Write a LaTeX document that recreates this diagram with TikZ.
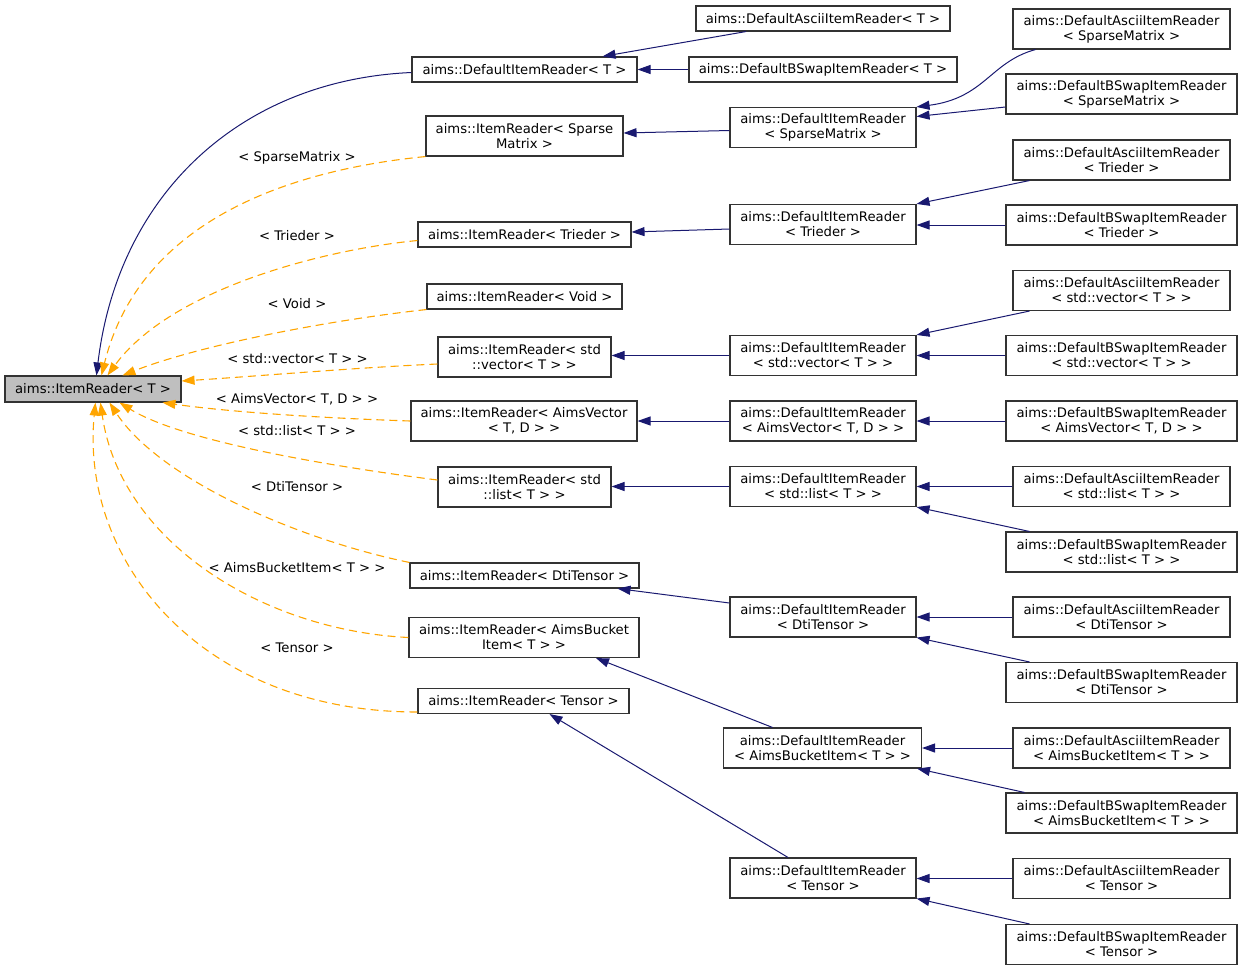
\documentclass[tikz,border=0pt]{standalone}
\usepackage{fontspec}
\newfontfamily\dvs{DejaVu Sans}
\usetikzlibrary{arrows.meta,calc}
\definecolor{boxline}{HTML}{333333}
\definecolor{rootfill}{HTML}{BFBFBF}
\definecolor{navyedge}{HTML}{191970}
\definecolor{orangeedge}{HTML}{FFA500}
\tikzset{
  cls/.style={draw=boxline, line width=1.1pt, fill=white, inner sep=0pt, align=center,
    font=\dvs\fontsize{13.2}{15}\selectfont},
  bx/.style 2 args={cls, minimum width=#1pt, minimum height=#2pt},
  inh/.style={draw=navyedge, line width=1pt, -{Triangle[length=13pt,width=9pt]}},
  dep/.style={draw=orangeedge, line width=1.1pt, dash pattern=on 8pt off 5pt,
    -{Triangle[length=13pt,width=9pt,fill=orangeedge]}},
  lbl/.style={inner sep=0pt, font=\dvs\fontsize{13.2}{15}\selectfont}
}
\begin{document}
\begin{tikzpicture}[x=1pt,y=-1pt]
\useasboundingbox (0,0) rectangle (1243,970);
% root
\node[bx={176}{26}, fill=rootfill] (root) at (93,389) {aims::ItemReader< T >};
% column 2
\node[bx={225}{25}] (dirT) at (524.5,69.5) {aims::DefaultItemReader< T >};
\node[bx={197}{40}] (irSparse) at (524.5,136) {aims::ItemReader< Sparse\\Matrix >};
\node[bx={213}{25}] (irTrieder) at (524.5,234.5) {aims::ItemReader< Trieder >};
\node[bx={195}{25}] (irVoid) at (524.5,296.5) {aims::ItemReader< Void >};
\node[bx={173}{40}] (irVector) at (524.5,357) {aims::ItemReader< std\\::vector< T > >};
\node[bx={226}{40}] (irAimsVector) at (524,421) {aims::ItemReader< AimsVector\\< T, D > >};
\node[bx={173}{40}] (irList) at (524.5,487) {aims::ItemReader< std\\::list< T > >};
\node[bx={229}{25}] (irDti) at (524.5,575.5) {aims::ItemReader< DtiTensor >};
\node[bx={230}{40}] (irBucket) at (524,637.5) {aims::ItemReader< AimsBucket\\Item< T > >};
\node[bx={211}{25}] (irTensor) at (523.5,701) {aims::ItemReader< Tensor >};
% column 3
\node[bx={254}{25}] (asciiT) at (823,18.5) {aims::DefaultAsciiItemReader< T >};
\node[bx={268}{25}] (bswapT) at (823,69.5) {aims::DefaultBSwapItemReader< T >};
\node[bx={186}{40}] (dirSparse) at (823,127.5) {aims::DefaultItemReader\\< SparseMatrix >};
\node[bx={186}{40}] (dirTrieder) at (823,224.5) {aims::DefaultItemReader\\< Trieder >};
\node[bx={186}{40}] (dirVector) at (823,355.5) {aims::DefaultItemReader\\< std::vector< T > >};
\node[bx={186}{40}] (dirAimsVector) at (823,421) {aims::DefaultItemReader\\< AimsVector< T, D > >};
\node[bx={186}{40}] (dirList) at (823,486.5) {aims::DefaultItemReader\\< std::list< T > >};
\node[bx={186}{40}] (dirDti) at (823,617) {aims::DefaultItemReader\\< DtiTensor >};
\node[bx={198}{40}] (dirBucket) at (822.5,748) {aims::DefaultItemReader\\< AimsBucketItem< T > >};
\node[bx={186}{40}] (dirTensor) at (823,878) {aims::DefaultItemReader\\< Tensor >};
% column 4
\node[bx={217}{40}] (asciiSparse) at (1121.5,29) {aims::DefaultAsciiItemReader\\< SparseMatrix >};
\node[bx={231}{40}] (bswapSparse) at (1121.5,94) {aims::DefaultBSwapItemReader\\< SparseMatrix >};
\node[bx={217}{40}] (asciiTrieder) at (1121.5,160) {aims::DefaultAsciiItemReader\\< Trieder >};
\node[bx={231}{40}] (bswapTrieder) at (1121.5,225) {aims::DefaultBSwapItemReader\\< Trieder >};
\node[bx={217}{40}] (asciiVector) at (1121.5,290.5) {aims::DefaultAsciiItemReader\\< std::vector< T > >};
\node[bx={231}{40}] (bswapVector) at (1121.5,355.5) {aims::DefaultBSwapItemReader\\< std::vector< T > >};
\node[bx={231}{40}] (bswapAimsVector) at (1121.5,421) {aims::DefaultBSwapItemReader\\< AimsVector< T, D > >};
\node[bx={217}{40}] (asciiList) at (1121.5,486.5) {aims::DefaultAsciiItemReader\\< std::list< T > >};
\node[bx={231}{40}] (bswapList) at (1121.5,552) {aims::DefaultBSwapItemReader\\< std::list< T > >};
\node[bx={217}{40}] (asciiDti) at (1121.5,617) {aims::DefaultAsciiItemReader\\< DtiTensor >};
\node[bx={231}{40}] (bswapDti) at (1121.5,682.5) {aims::DefaultBSwapItemReader\\< DtiTensor >};
\node[bx={217}{40}] (asciiBucket) at (1121.5,748) {aims::DefaultAsciiItemReader\\< AimsBucketItem< T > >};
\node[bx={231}{40}] (bswapBucket) at (1121.5,813) {aims::DefaultBSwapItemReader\\< AimsBucketItem< T > >};
\node[bx={217}{40}] (asciiTensor) at (1121.5,878.5) {aims::DefaultAsciiItemReader\\< Tensor >};
\node[bx={231}{40}] (bswapTensor) at (1121.5,944.5) {aims::DefaultBSwapItemReader\\< Tensor >};

% navy inheritance edges
\draw[inh] ($(dirT.west)+(0,3)$) .. controls (240,80) and (118,195) .. ($(root.north west)+(92,0)$);
\draw[inh] ($(asciiT.south)+(-77,0)$) -- ($(dirT.north)+(78,0)$);
\draw[inh] (bswapT.west) -- (bswapT.west -| dirT.east);
\draw[inh] ($(dirSparse.west)+(0,3)$) -- ($(irSparse.east)+(0,-3)$);
\draw[inh] ($(asciiSparse.south west)+(23,0)$) .. controls (990,62) and (985,98) .. (dirSparse.north east);
\draw[inh] ($(bswapSparse.west)+(0,13)$) -- ($(dirSparse.east)+(0,-11)$);
\draw[inh] ($(dirTrieder.west)+(0,4.5)$) -- ($(irTrieder.east)+(0,-2.5)$);
\draw[inh] ($(asciiTrieder.south west)+(17,0)$) -- (dirTrieder.north east);
\draw[inh] (bswapTrieder.west) -- (bswapTrieder.west -| dirTrieder.east);
\draw[inh] (dirVector.west) -- (dirVector.west -| irVector.east);
\draw[inh] ($(asciiVector.south west)+(17,0)$) -- (dirVector.north east);
\draw[inh] (bswapVector.west) -- (bswapVector.west -| dirVector.east);
\draw[inh] (dirAimsVector.west) -- (dirAimsVector.west -| irAimsVector.east);
\draw[inh] (bswapAimsVector.west) -- (bswapAimsVector.west -| dirAimsVector.east);
\draw[inh] (dirList.west) -- (dirList.west -| irList.east);
\draw[inh] (asciiList.west) -- (asciiList.west -| dirList.east);
\draw[inh] ($(bswapList.north west)+(24,0)$) -- (dirList.south east);
\draw[inh] ($(dirDti.west)+(0,-14)$) -- ($(irDti.south)+(93,0)$);
\draw[inh] (asciiDti.west) -- (asciiDti.west -| dirDti.east);
\draw[inh] ($(bswapDti.north west)+(24,0)$) -- (dirDti.south east);
\draw[inh] ($(dirBucket.north)+(-50,0)$) -- ($(irBucket.south)+(72,0)$);
\draw[inh] (asciiBucket.west) -- (asciiBucket.west -| dirBucket.east);
\draw[inh] ($(bswapBucket.north west)+(19,0)$) -- ($(dirBucket.south east)+(-5,0)$);
\draw[inh] ($(dirTensor.north)+(-35,0)$) -- ($(irTensor.south)+(26,0)$);
\draw[inh] (asciiTensor.west) -- (asciiTensor.west -| dirTensor.east);
\draw[inh] ($(bswapTensor.north west)+(24,0)$) -- (dirTensor.south east);

% orange template-instance edges
\draw[dep] (irSparse.south west) .. controls (290,170) and (140,220) .. ($(root.north west)+(97,0)$);
\draw[dep] ($(irTrieder.west)+(0,6)$) .. controls (320,250) and (170,290) .. ($(root.north west)+(103,0)$);
\draw[dep] (irVoid.south west) .. controls (330,320) and (200,345) .. ($(root.north west)+(118,0)$);
\draw[dep] ($(irVector.west)+(0,7)$) .. controls (350,368) and (260,376) .. ($(root.east)+(0,-8)$);
\draw[dep] (irAimsVector.west) .. controls (320,418) and (230,412) .. ($(root.south west)+(158,0)$);
\draw[dep] ($(irList.west)+(0,-7)$) .. controls (320,465) and (180,440) .. ($(root.south west)+(115,0)$);
\draw[dep] (irDti.north west) .. controls (300,540) and (160,480) .. ($(root.south west)+(105,0)$);
\draw[dep] (irBucket.west) .. controls (260,630) and (120,540) .. ($(root.south west)+(96,0)$);
\draw[dep] ($(irTensor.west)+(0,11)$) .. controls (200,712) and (80,560) .. ($(root.south west)+(91,0)$);

% labels
\node[lbl] (lSparse) at (297,158) {< SparseMatrix >};
\node[lbl] (lTrieder) at (297,236) {< Trieder >};
\node[lbl] (lVoid) at (297,304) {< Void >};
\node[lbl] (lVector) at (297.5,359) {< std::vector< T > >};
\node[lbl] (lAimsVector) at (297,399.5) {< AimsVector< T, D > >};
\node[lbl] (lList) at (297,431) {< std::list< T > >};
\node[lbl] (lDti) at (297,487) {< DtiTensor >};
\node[lbl] (lBucket) at (297,568) {< AimsBucketItem< T > >};
\node[lbl] (lTensor) at (297,648) {< Tensor >};
\end{tikzpicture}
\end{document}
